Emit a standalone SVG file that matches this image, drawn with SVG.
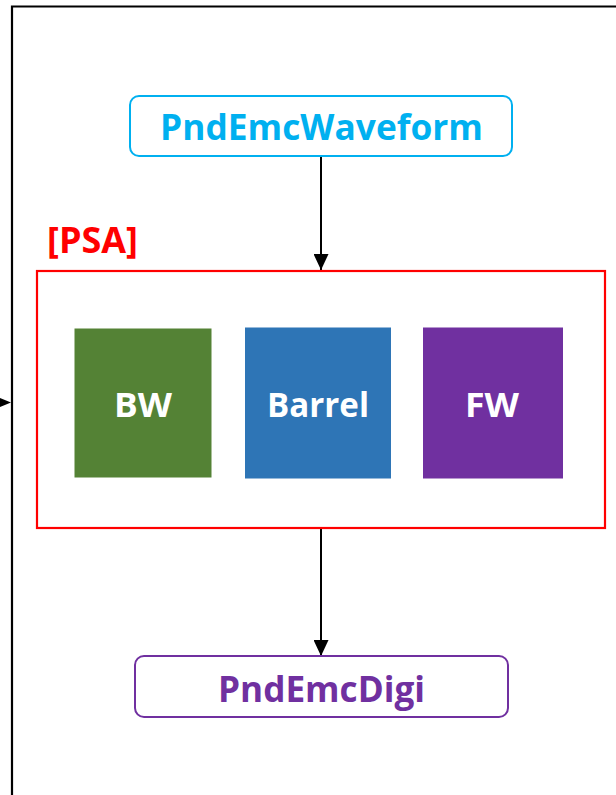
<svg xmlns="http://www.w3.org/2000/svg" width="616" height="795" viewBox="0 0 616 795">
  <defs>
    <marker id="arrow" viewBox="0 0 16 15" refX="16" refY="7.5" markerWidth="16" markerHeight="15" markerUnits="userSpaceOnUse" orient="auto">
      <path d="M0,0 L16,7.5 L0,15 Z" fill="#000"/>
    </marker>
    <style>
      .lbl { font-family: "Open Sans", "Liberation Sans", sans-serif; font-weight: bold; }
      .io { fill: #fff; stroke-width: 2; }
      .det { font-size: 34px; fill: #fff; text-anchor: middle; }
      .conn { stroke: #000; stroke-width: 2; fill: none; }
    </style>
  </defs>
  <rect width="616" height="795" fill="#fff"/>

  <!-- outer frame (open on the right and bottom) -->
  <g id="frame">
    <path d="M12,795 L12,6.5 L616,6.5" fill="none" stroke="#000" stroke-width="2.2"/>
    <path d="M0,398 L11,402.5 L0,407 Z" fill="#000"/>
  </g>

  <g id="connectors">
    <line class="conn" x1="321" y1="157" x2="321" y2="270" marker-end="url(#arrow)"/>
    <line class="conn" x1="321" y1="528" x2="321" y2="656" marker-end="url(#arrow)"/>
  </g>

  <g id="waveform">
    <rect class="io" x="130" y="96" width="382" height="60" rx="9" stroke="#00B0F0"/>
    <text class="lbl" x="321.5" y="140" font-size="36" fill="#00B0F0" text-anchor="middle" textLength="323" lengthAdjust="spacingAndGlyphs">PndEmcWaveform</text>
  </g>

  <g id="psa">
    <text class="lbl" x="47" y="253" font-size="35" fill="#FF0000" textLength="91" lengthAdjust="spacingAndGlyphs">[PSA]</text>
    <rect x="37" y="271" width="568" height="257" fill="none" stroke="#FF0000" stroke-width="2.2"/>
  </g>

  <g id="bw">
    <rect x="74.5" y="328.5" width="137" height="149" fill="#548235"/>
    <text class="lbl det" x="143" y="416.5" textLength="58" lengthAdjust="spacingAndGlyphs">BW</text>
  </g>

  <g id="barrel">
    <rect x="245" y="327.5" width="146" height="151" fill="#2E75B6"/>
    <text class="lbl det" x="318" y="416.5" textLength="102" lengthAdjust="spacingAndGlyphs">Barrel</text>
  </g>

  <g id="fw">
    <rect x="423" y="327.5" width="140" height="151" fill="#7030A0"/>
    <text class="lbl det" x="492" y="416.5" textLength="54" lengthAdjust="spacingAndGlyphs">FW</text>
  </g>

  <g id="digi">
    <rect class="io" x="135" y="656" width="373" height="61" rx="9" stroke="#7030A0"/>
    <text class="lbl" x="321.5" y="701.5" font-size="36" fill="#7030A0" text-anchor="middle" textLength="207" lengthAdjust="spacingAndGlyphs">PndEmcDigi</text>
  </g>
</svg>
